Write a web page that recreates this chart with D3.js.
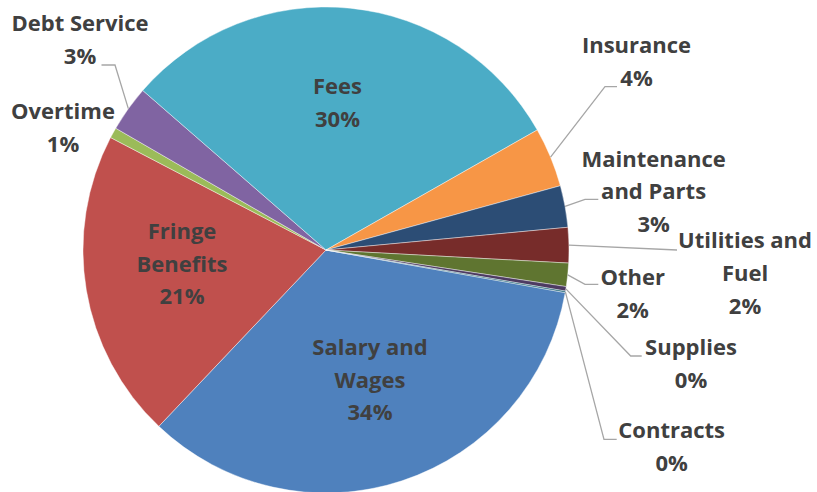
<!DOCTYPE html>
<html>
<head>
<meta charset="utf-8">
<script src="https://cdn.jsdelivr.net/npm/d3@7"></script>
<style>
  html, body { margin: 0; padding: 0; background: #fff; }
  svg { display: block; }
</style>
</head>
<body>
<svg id="chart" width="817" height="492"></svg>
<script>
// ---- data ----
const categories = ["Salary and Wages", "Fringe Benefits", "Overtime", "Debt Service", "Fees",
  "Insurance", "Maintenance and Parts", "Utilities and Fuel", "Other", "Supplies", "Contracts"];
const values = [34.3, 20.6, 0.7, 3.05, 30.4, 3.97, 2.77, 2.35, 1.55, 0.3, 0.1];
const labelLines = [["Salary and", "Wages"], ["Fringe", "Benefits"], ["Overtime"], ["Debt Service"], ["Fees"],
  ["Insurance"], ["Maintenance", "and Parts"], ["Utilities and", "Fuel"], ["Other"], ["Supplies"], ["Contracts"]];

// ---- styles / layout ----
const colors = ["#4F81BD", "#C0504D", "#9BBB59", "#8064A2", "#4BACC6", "#F79646",
  "#2C4D75", "#772C2A", "#5F7530", "#4D3B62", "#276A7C"];
const cx = 326, cy = 250, R = 243;
const startDeg = 100.1;
const lineH = 32.7;
const fontSize = 22;
// label anchor: [centre x, first baseline y], leader: list of points after the slice edge point
const labelLayout = {
  "Salary and Wages": { pos: [370, 355] },
  "Fringe Benefits": { pos: [182, 239] },
  "Overtime": { pos: [63, 119] },
  "Debt Service": { pos: [80, 31], leader: [[115, 65], [101.5, 65]] },
  "Fees": { pos: [337.5, 94] },
  "Insurance": { pos: [636.5, 53.3], leader: [[605, 86.7], [617, 86.7]] },
  "Maintenance and Parts": { pos: [653.6, 166.7], leader: [[585, 199.3], [598.3, 199.3]] },
  "Utilities and Fuel": { pos: [745, 248.3], leader: [[677, 250]] },
  "Other": { pos: [632.7, 285], leader: [[585, 284.3], [598.3, 284.3]] },
  "Supplies": { pos: [691, 355], leader: [[630.7, 356], [641.7, 356]] },
  "Contracts": { pos: [671.7, 438.3], leader: [[604, 439.3], [616.7, 439.3]] }
};

const data = categories.map((c, i) => ({ name: c, value: values[i], lines: labelLines[i], color: colors[i] }));
const total = d3.sum(values);
const pct = d3.format(".0%");

const svg = d3.select("#chart");
const g = svg.append("g").attr("transform", `translate(${cx},${cy})`);

const start = startDeg * Math.PI / 180;
const pie = d3.pie().value(d => d.value).sort(null).startAngle(start).endAngle(start + 2 * Math.PI);
const arcs = pie(data);
const arc = d3.arc().innerRadius(0).outerRadius(R);
const edgeArc = d3.arc().innerRadius(R).outerRadius(R);

g.selectAll("path.slice").data(arcs).join("path")
  .attr("class", "slice")
  .attr("d", arc)
  .attr("fill", d => d.data.color)
  .attr("stroke", "#ffffff")
  .attr("stroke-width", 0.6)
  .attr("stroke-opacity", 0.7);

// leader lines
const line = d3.line();
arcs.forEach(d => {
  const lay = labelLayout[d.data.name];
  if (!lay.leader) return;
  const e = edgeArc.centroid(d);
  const pts = [[cx + e[0], cy + e[1]], ...lay.leader];
  svg.append("path")
    .attr("d", line(pts))
    .attr("fill", "none")
    .attr("stroke", "#A6A6A6")
    .attr("stroke-width", 1.3);
});

// labels
arcs.forEach(d => {
  const lay = labelLayout[d.data.name];
  const lines = [...d.data.lines, pct(d.data.value / total)];
  const t = svg.append("text")
    .attr("x", lay.pos[0])
    .attr("y", lay.pos[1])
    .attr("text-anchor", "middle")
    .attr("font-family", "'Open Sans', Lato, sans-serif")
    .attr("font-weight", "bold")
    .attr("font-size", fontSize)
    .attr("fill", "#404040");
  lines.forEach((l, i) => {
    t.append("tspan")
      .attr("x", lay.pos[0])
      .attr("y", lay.pos[1] + i * lineH)
      .text(l);
  });
});
</script>
</body>
</html>
